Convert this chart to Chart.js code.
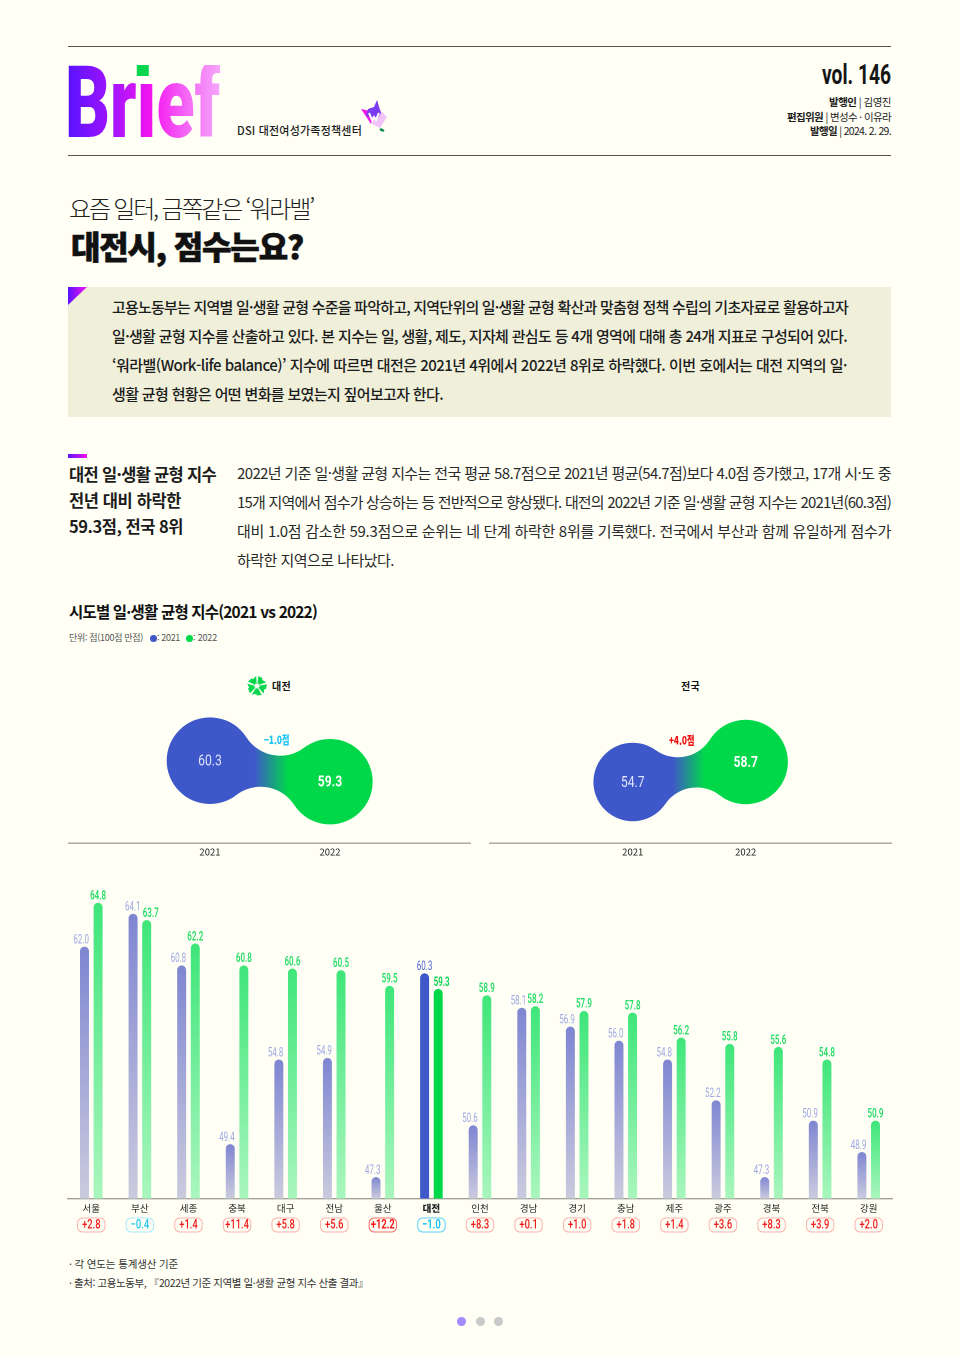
<!DOCTYPE html>
<html lang="ko">
<head>
<meta charset="utf-8">
<title>Brief vol.146</title>
<script src="https://cdn.jsdelivr.net/npm/chart.js@4"></script>
<style>
html,body{margin:0;padding:0;background:#fffff5}
#page{position:relative;width:960px;height:1358px;background:#fffff5;overflow:hidden;font-family:"Noto Sans CJK KR","Noto Sans",sans-serif;color:#1c1c1c}
.t{position:absolute;white-space:nowrap;line-height:20px;height:20px;transform:translateY(-10px)}
.rule{position:absolute;height:1.4px;background:#55554f}
canvas{position:absolute;display:block}
svg{position:absolute;overflow:visible}
b{font-weight:700}
</style>
</head>
<body>
<div id="page">
<div class="rule" style="left:68px;width:823px;top:46px"></div>
<div class="rule" style="left:68px;width:823px;top:155px"></div>

<svg style="left:0;top:0" width="960" height="200">
  <defs>
    <linearGradient id="gBrief" gradientUnits="userSpaceOnUse" x1="68" x2="219" y1="0" y2="0">
      <stop offset="0" stop-color="#5a12ff"/><stop offset=".3" stop-color="#a514ff"/><stop offset=".55" stop-color="#f414f0"/><stop offset=".8" stop-color="#f46cf6"/><stop offset="1" stop-color="#f6a4fb"/>
    </linearGradient>
    <linearGradient id="gTri" x1="0" x2="1" y1="0" y2="0"><stop offset="0" stop-color="#5a12ff"/><stop offset="1" stop-color="#f414f0"/></linearGradient>
    <clipPath id="cBrief"><rect x="60" y="65" width="170" height="74"/></clipPath>
  </defs>
  <text x="65" y="137" clip-path="url(#cBrief)" font-family="Roboto" font-weight="900" font-size="101" textLength="155" lengthAdjust="spacingAndGlyphs" fill="url(#gBrief)">Brıef</text>
  <rect x="136.8" y="65" width="12" height="11" fill="#08d64e"/>
  <text x="822" y="83.5" font-family="Roboto" font-weight="700" font-size="27" textLength="69" lengthAdjust="spacingAndGlyphs" fill="#151515">vol. 146</text>
  <polygon points="378,108 387,117 380,128 372,124" fill="#f0c4f6"/>
  <polygon points="361,109 375,112 371,124" fill="#f018e8"/>
  <polygon points="377,100 381,113 378,118 366,116 368,109 374,107" fill="#7a3cf0"/>
  <path d="M369,113 L372,120 L374,117 L376,120 L379,113" fill="none" stroke="#fff" stroke-width="2"/>
  <ellipse cx="382" cy="130" rx="2.6" ry="1.5" fill="#0f8a4a" transform="rotate(25 382 130)"/>
</svg>
<div class="t fit" data-w="125" style="left:237px;top:130px;font-size:11px;font-weight:500">DSI 대전여성가족정책센터</div>
<div class="t fit" data-w="62" style="left:829px;top:102px;font-size:10.5px"><b>발행인</b> | 김영진</div>
<div class="t fit" data-w="104" style="left:787px;top:117px;font-size:10.5px"><b>편집위원</b> | 변성수 · 이유라</div>
<div class="t fit" data-w="81" style="left:810px;top:131px;font-size:10.5px"><b>발행일</b> | 2024. 2. 29.</div>

<div class="t fit" data-w="244" style="left:69px;top:208px;font-size:24px;font-weight:300;color:#222">요즘 일터, 금쪽같은 ‘워라밸’</div>
<div class="t fit" data-w="232" style="left:71px;top:245px;font-size:32px;font-weight:900;color:#111;-webkit-text-stroke:.6px #111">대전시, 점수는요?</div>

<div style="position:absolute;left:68px;top:287px;width:823px;height:130px;background:#f0f0da"></div>
<svg style="left:68px;top:287px" width="20" height="19"><polygon points="0,0 19,0 0,18" fill="url(#gTri)"/></svg>
<div class="t fit" data-w="736" style="left:112px;top:306.5px;font-size:15px;font-weight:500">고용노동부는 지역별 일·생활 균형 수준을 파악하고, 지역단위의 일·생활 균형 확산과 맞춤형 정책 수립의 기초자료로 활용하고자</div>
<div class="t fit" data-w="735" style="left:112px;top:335.5px;font-size:15px;font-weight:500">일·생활 균형 지수를 산출하고 있다. 본 지수는 일, 생활, 제도, 지자체 관심도 등 4개 영역에 대해 총 24개 지표로 구성되어 있다.</div>
<div class="t fit" data-w="735" style="left:112px;top:364.5px;font-size:15px;font-weight:500">‘워라밸(Work-life balance)’ 지수에 따르면 대전은 2021년 4위에서 2022년 8위로 하락했다. 이번 호에서는 대전 지역의 일·</div>
<div class="t fit" data-w="331" style="left:112px;top:393.5px;font-size:15px;font-weight:500">생활 균형 현황은 어떤 변화를 보였는지 짚어보고자 한다.</div>

<div style="position:absolute;left:68px;top:454px;width:19px;height:4px;background:linear-gradient(90deg,#5a12ff,#f414f0)"></div>
<div class="t fit" data-w="147" style="left:69px;top:474px;font-size:16.5px;font-weight:700">대전 일·생활 균형 지수</div>
<div class="t fit" data-w="112" style="left:69px;top:500px;font-size:16.5px;font-weight:700">전년 대비 하락한</div>
<div class="t fit" data-w="114" style="left:69px;top:526px;font-size:16.5px;font-weight:700">59.3점, 전국 8위</div>

<div class="t fit" data-w="654" style="left:237px;top:473px;font-size:15px;color:#2a2a2a">2022년 기준 일·생활 균형 지수는 전국 평균 58.7점으로 2021년 평균(54.7점)보다 4.0점 증가했고, 17개 시·도 중</div>
<div class="t fit" data-w="654" style="left:237px;top:502px;font-size:15px;color:#2a2a2a">15개 지역에서 점수가 상승하는 등 전반적으로 향상됐다. 대전의 2022년 기준 일·생활 균형 지수는 2021년(60.3점)</div>
<div class="t fit" data-w="654" style="left:237px;top:531px;font-size:15px;color:#2a2a2a">대비 1.0점 감소한 59.3점으로 순위는 네 단계 하락한 8위를 기록했다. 전국에서 부산과 함께 유일하게 점수가</div>
<div class="t fit" data-w="157" style="left:237px;top:560px;font-size:15px;color:#2a2a2a">하락한 지역으로 나타났다.</div>

<div class="t fit" data-w="248" style="left:69px;top:611px;font-size:15.5px;font-weight:700;color:#111">시도별 일·생활 균형 지수(2021 vs 2022)</div>
<div class="t fit" data-w="74" style="left:69px;top:638px;font-size:9px;color:#555">단위: 점(100점 만점)</div>
<div style="position:absolute;left:149.5px;top:634.5px;width:7px;height:7px;border-radius:50%;background:#3f58c9"></div>
<div class="t fit" data-w="23" style="left:157px;top:638px;font-size:9px;color:#555">: 2021</div>
<div style="position:absolute;left:185.5px;top:634.5px;width:7px;height:7px;border-radius:50%;background:#00d84a"></div>
<div class="t fit" data-w="24" style="left:193px;top:638px;font-size:9px;color:#555">: 2022</div>

<svg id="star" style="left:257px;top:686px" width="1" height="1"></svg>
<div class="t fit" data-w="19" style="left:272px;top:686px;font-size:10px;font-weight:700;color:#111">대전</div>
<div class="t fit" data-w="19" style="left:681px;top:686px;font-size:10px;font-weight:700;color:#111">전국</div>

<canvas id="blobLeft" style="left:68px;top:700px"></canvas>
<canvas id="blobRight" style="left:489px;top:700px"></canvas>
<canvas id="bars" style="left:67px;top:880px"></canvas>

<div class="t fit" data-w="109" style="left:69px;top:1264px;font-size:10.5px;color:#333">· 각 연도는 통계생산 기준</div>
<div class="t fit" data-w="299" style="left:69px;top:1283px;font-size:10.5px;color:#333">· 출처: 고용노동부, 『2022년 기준 지역별 일·생활 균형 지수 산출 결과』</div>

<div style="position:absolute;left:456.5px;top:1316.5px;width:9px;height:9px;border-radius:50%;background:#a08cff"></div>
<div style="position:absolute;left:475.5px;top:1316.5px;width:9px;height:9px;border-radius:50%;background:#c9c9c9"></div>
<div style="position:absolute;left:493.5px;top:1316.5px;width:9px;height:9px;border-radius:50%;background:#c9c9c9"></div>
</div>

<script>
const regions = ['서울','부산','세종','충북','대구','전남','울산','대전','인천','경남','경기','충남','제주','광주','경북','전북','강원'];
const scores2021 = [62.0,64.1,60.8,49.4,54.8,54.9,47.3,60.3,50.6,58.1,56.9,56.0,54.8,52.2,47.3,50.9,48.9];
const scores2022 = [64.8,63.7,62.2,60.8,60.6,60.5,59.5,59.3,58.9,58.2,57.9,57.8,56.2,55.8,55.6,54.8,50.9];
const changes = ['+2.8','−0.4','+1.4','+11.4','+5.8','+5.6','+12.2','−1.0','+8.3','+0.1','+1.0','+1.8','+1.4','+3.6','+8.3','+3.9','+2.0'];
const years = [2021,2022];
const daejeonScores = [60.3,59.3];
const nationalScores = [54.7,58.7];
const daejeonChange = '−1.0점';
const nationalChange = '+4.0점';
const highlight = '대전';

const BLUE = '#3f58c9', GREEN = '#00d84a', AXIS = '#a3a39c';
const FONT = '"Noto Sans CJK KR","Noto Sans",sans-serif';
const NUM = 'Roboto,"Noto Sans",sans-serif';

/* fit every text line to the width measured on the reference */
document.querySelectorAll('.fit').forEach(el => {
  el.style.display = 'inline-block';
  const w = el.getBoundingClientRect().width;
  const n = el.textContent.length;
  el.style.letterSpacing = ((+el.dataset.w - w) / n).toFixed(3) + 'px';
});

/* star mark */
(function(){
  const s = document.getElementById('star');
  let h = '';
  for (let i = 0; i < 5; i++) {
    h += `<g transform="rotate(${i*72})"><polygon points="0.4,-2 1.4,-10 5.8,-7.4 3,-3.2" fill="#08d64e"/><polygon points="-0.4,-2 -0.8,-10 -5.2,-6 -2.6,-2.8" fill="#08d64e"/></g>`;
  }
  s.innerHTML = h;
})();

function squeezedText(ctx, str, x, y, font, color, sx) {
  ctx.save();
  ctx.translate(x, y);
  ctx.scale(sx, 1);
  ctx.font = font;
  ctx.fillStyle = color;
  ctx.textAlign = 'center';
  ctx.textBaseline = 'middle';
  ctx.fillText(str, 0, 0);
  ctx.restore();
}

/* dumbbell: the neck joining the two points */
function filletNeck(ctx, a, ra, b, rb, R) {
  const dx = b.x - a.x, dy = b.y - a.y, d = Math.hypot(dx, dy);
  const ux = dx / d, uy = dy / d;
  const along = (d*d + (ra+R)*(ra+R) - (rb+R)*(rb+R)) / (2*d);
  const h = Math.sqrt((ra+R)*(ra+R) - along*along);
  const mk = s => ({x: a.x + along*ux + s*h*uy, y: a.y + along*uy - s*h*ux});
  const top = mk(1), bot = mk(-1);
  const ang = (c, o, r) => Math.atan2((o.y + (c.y-o.y)*r/(r+R)) - c.y, (o.x + (c.x-o.x)*r/(r+R)) - c.x);
  ctx.beginPath();
  ctx.arc(top.x, top.y, R, ang(top, a, ra), ang(top, b, rb), true);
  ctx.arc(bot.x, bot.y, R, ang(bot, b, rb), ang(bot, a, ra), true);
  ctx.closePath();
}

const blobPlugin = {
  id: 'blob',
  beforeDatasetsDraw(chart, _a, o) {
    const [p, q] = chart.getDatasetMeta(0).data;
    const ctx = chart.ctx;
    const g = ctx.createLinearGradient(p.x + p.options.radius + 1, 0, q.x - q.options.radius + 1, 0);
    g.addColorStop(0, BLUE); g.addColorStop(1, GREEN);
    filletNeck(ctx, p, p.options.radius, q, q.options.radius, o.fillet);
    ctx.fillStyle = g;
    ctx.fill();
  },
  afterDatasetsDraw(chart, _a, o) {
    const ctx = chart.ctx;
    const [p, q] = chart.getDatasetMeta(0).data;
    const v = chart.data.datasets[0].data;
    squeezedText(ctx, v[0].y.toFixed(1), p.x, p.y + 1, `400 16px ${NUM}`, '#dfe5ff', 0.76);
    squeezedText(ctx, v[1].y.toFixed(1), q.x, q.y + 1, `700 16px ${NUM}`, '#ffffff', 0.76);
    squeezedText(ctx, o.change, o.changeX, o.changeY, `800 11.5px ${FONT}`, o.changeColor, 0.72);
  }
};

function makeBlob(id, w, values, xMin, xMax, yMin, yMax, radii, fillet, change, changeColor, changeX, changeY) {
  const el = document.getElementById(id);
  el.width = w; el.height = 160;
  el.style.width = w + 'px'; el.style.height = '160px';
  return new Chart(el, {
    type: 'scatter',
    data: { datasets: [{
      data: years.map((y, i) => ({x: y, y: values[i]})),
      pointRadius: radii,
      pointHoverRadius: radii,
      pointBackgroundColor: [BLUE, GREEN],
      pointBorderWidth: 0,
      clip: false
    }]},
    plugins: [blobPlugin],
    options: {
      responsive: false, animation: false, events: [], devicePixelRatio: 2,
      layout: {padding: 0, autoPadding: false},
      plugins: { legend: {display: false}, tooltip: {enabled: false},
        blob: {fillet, change, changeColor, changeX, changeY} },
      scales: {
        x: { type: 'linear', min: xMin, max: xMax,
          afterBuildTicks(ax){ ax.ticks = years.map(v => ({value: v})); },
          afterFit(ax){ ax.height = 17; },
          border: {color: AXIS, width: 1.4},
          grid: {display: true, drawOnChartArea: false, drawTicks: false},
          ticks: { autoSkip: false, maxRotation: 0, padding: 3, color: '#222', font: {family: FONT, size: 9.5},
            callback: v => String(v) }
        },
        y: { display: false, min: yMin, max: yMax }
      }
    }
  });
}
/* chart area 143 px tall: values below place the points at their reference heights */
makeBlob('blobLeft', 403, daejeonScores, 2019.817, 2023.175, 56.38, 63.19, [43.3, 42.7], 40,
         daejeonChange, '#18c4f4', 208.7, 39.5);
makeBlob('blobRight', 403, nationalScores, 2019.728, 2023.295, 42.5, 71.1, [39.3, 42.2], 38,
         nationalChange, '#f00c0c', 192.7, 40);

/* bars */
function barGradient(top, bottom) {
  return c => {
    const y = c.chart.scales.y;
    if (!y || !c.parsed) return top;
    const py = y.getPixelForValue(c.parsed.y), by = y.bottom;
    if (!Number.isFinite(py) || !Number.isFinite(by)) return top;
    const g = c.chart.ctx.createLinearGradient(0, py, 0, by);
    g.addColorStop(0, top); g.addColorStop(1, bottom);
    return g;
  };
}
const isHi = i => regions[i] === highlight;
const labelNudge = { '부산': [-0.3, 4], '대전': [0, 3.4] };

const labelsAndBadges = {
  id: 'labelsAndBadges',
  afterDatasetsDraw(chart) {
    const ctx = chart.ctx;
    const m0 = chart.getDatasetMeta(0).data, m1 = chart.getDatasetMeta(1).data;
    regions.forEach((r, i) => {
      const nudge = labelNudge[r] || [-3.3, 0];
      squeezedText(ctx, scores2021[i].toFixed(1), m0[i].x + nudge[0], m0[i].y - 6.3,
        `400 12.5px ${NUM}`, isHi(i) ? '#4d63cc' : '#9ca6e2', 0.64);
      squeezedText(ctx, scores2022[i].toFixed(1), m1[i].x + nudge[1], m1[i].y - 6.3,
        `600 12.5px ${NUM}`, isHi(i) ? '#00cf48' : '#26dc68', 0.64);

      const cx = chart.scales.x.getPixelForTick(i), cy = 1225 - 880;
      const neg = changes[i][0] === '−', strong = r === '울산' || isHi(i);
      ctx.beginPath();
      ctx.roundRect(cx - 13.7, cy - 7, 27.4, 14, 5);
      ctx.lineWidth = 1;
      ctx.strokeStyle = neg ? (strong ? '#58d2f6' : '#a8e8fb') : (strong ? '#f4706a' : '#fbb4ac');
      ctx.stroke();
      squeezedText(ctx, changes[i], cx, cy + 0.3, `${strong ? 700 : 500} 13px ${NUM}`,
        neg ? '#1cc4f2' : '#f01818', 0.72);
    });
  }
};

(function(){
  const el = document.getElementById('bars');
  el.width = 826; el.height = 360;
  el.style.width = '826px'; el.style.height = '360px';
  new Chart(el, {
    type: 'bar',
    data: {
      labels: regions,
      datasets: [
        { label: '2021', data: scores2021,
          backgroundColor: c => isHi(c.dataIndex) ? BLUE : barGradient('#7f86d2', '#cbcbde')(c) },
        { label: '2022', data: scores2022,
          backgroundColor: c => isHi(c.dataIndex) ? GREEN : barGradient('#3fe67a', '#aaf6be')(c) }
      ]
    },
    plugins: [labelsAndBadges],
    options: {
      responsive: false, animation: false, events: [], devicePixelRatio: 2,
      layout: {padding: 0},
      plugins: {legend: {display: false}, tooltip: {enabled: false}},
      datasets: { bar: {
        categoryPercentage: 0.56, barPercentage: 0.66,
        borderRadius: {topLeft: 4.5, topRight: 4.5, bottomLeft: 0, bottomRight: 0},
        borderSkipped: 'start'
      }},
      scales: {
        x: {
          afterFit(ax){ ax.height = 41.5; },
          border: {color: AXIS, width: 1.4},
          grid: {display: false, drawTicks: false},
          ticks: { autoSkip: false, maxRotation: 0, padding: 4, color: '#222',
            font: c => ({family: FONT, size: 9.5, weight: isHi(c.index) ? '800' : '400'}) }
        },
        y: { display: false, min: 45.93, max: 66.25 }
      }
    }
  });
})();
</script>
</body>
</html>
